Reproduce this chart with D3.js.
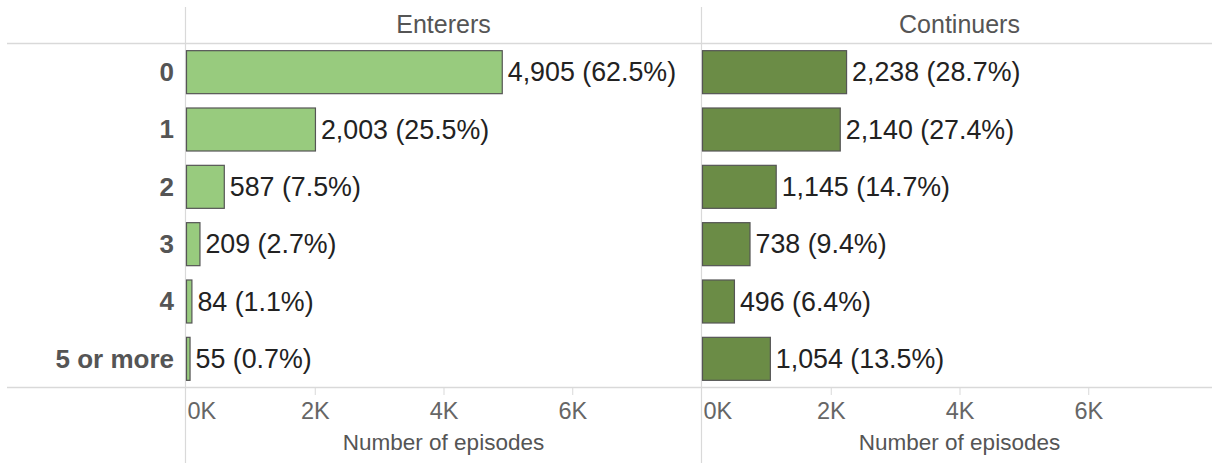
<!DOCTYPE html>
<html>
<head>
<meta charset="utf-8">
<script src="https://cdn.jsdelivr.net/npm/d3@7"></script>
<style>
  body { margin: 0; background: #fff; overflow: hidden; }
  text { font-family: "Liberation Sans", Arial, sans-serif; }
</style>
</head>
<body>
<svg id="chart"></svg>
<script>
// data
const categories = ["0", "1", "2", "3", "4", "5 or more"];
const panels = ["Enterers", "Continuers"];
const enterers = [4905, 2003, 587, 209, 84, 55];
const entererPct = [62.5, 25.5, 7.5, 2.7, 1.1, 0.7];
const continuers = [2238, 2140, 1145, 738, 496, 1054];
const continuerPct = [28.7, 27.4, 14.7, 9.4, 6.4, 13.5];
const tickValues = [0, 2000, 4000, 6000];
const axisTitle = "Number of episodes";

const width = 1212, height = 463;
const plotTop = 43, plotBottom = 387;
const panelX = [[186, 701], [702, 1217]];
const fills = ["#98cb7e", "#6b8c46"];
const seriesVals = [enterers, continuers];
const seriesPct = [entererPct, continuerPct];

const svg = d3.select("#chart").attr("width", width).attr("height", height);

const y = d3.scaleBand().domain(categories).range([plotTop, plotBottom]).paddingInner(0.25).paddingOuter(0.125);

// frame lines
svg.append("line").attr("x1", 7).attr("x2", width).attr("y1", plotTop + 0.5).attr("y2", plotTop + 0.5)
  .attr("stroke", "#d9d9d9").attr("stroke-width", 1.5);
svg.append("line").attr("x1", 7).attr("x2", width).attr("y1", plotBottom + 0.5).attr("y2", plotBottom + 0.5)
  .attr("stroke", "#d9d9d9").attr("stroke-width", 1.5);
[185.5, 701.5].forEach(xp => {
  svg.append("line").attr("x1", xp).attr("x2", xp).attr("y1", 7).attr("y2", height)
    .attr("stroke", "#d9d9d9").attr("stroke-width", 1.2);
});

// category labels
svg.selectAll("text.cat").data(categories).enter().append("text")
  .attr("class", "cat")
  .attr("x", 174)
  .attr("y", d => y(d) + y.bandwidth() / 2)
  .attr("dy", "0.36em")
  .attr("text-anchor", "end")
  .attr("font-size", 26)
  .attr("font-weight", "bold")
  .attr("fill", "#555")
  .text(d => d);

const fmt = d3.format(",");

panels.forEach((name, p) => {
  const x = d3.scaleLinear().domain([0, 8000]).range([panelX[p][0], panelX[p][1]]);
  const g = svg.append("g");
  const cx = panelX[p][0] + (701 - 186) / 2;

  g.append("text")
    .attr("x", cx)
    .attr("y", 33)
    .attr("text-anchor", "middle")
    .attr("font-size", 25)
    .attr("fill", "#555")
    .text(name);

  const rows = categories.map((c, i) => ({ cat: c, value: seriesVals[p][i], pct: seriesPct[p][i] }));

  g.selectAll("rect").data(rows).enter().append("rect")
    .attr("x", x(0) + 0.5)
    .attr("y", d => y(d.cat) + 0.5)
    .attr("width", d => Math.max(x(d.value) - x(0), 1))
    .attr("height", y.bandwidth())
    .attr("fill", fills[p])
    .attr("stroke", "#555")
    .attr("stroke-width", 1.2);

  g.selectAll("text.val").data(rows).enter().append("text")
    .attr("class", "val")
    .attr("x", d => x(d.value) + 6)
    .attr("y", d => y(d.cat) + y.bandwidth() / 2)
    .attr("dy", "0.36em")
    .attr("font-size", 26.8)
    .attr("fill", "#222")
    .text(d => `${fmt(d.value)} (${d.pct.toFixed(1)}%)`);

  // axis
  const axis = d3.axisBottom(x).tickValues(tickValues).tickSize(8).tickPadding(7).tickFormat(d => (d / 1000) + "K");
  const ag = g.append("g").attr("transform", `translate(0,${plotBottom})`).call(axis);
  ag.select(".domain").remove();
  ag.selectAll(".tick line").attr("stroke", "#d9d9d9");
  ag.selectAll(".tick text")
    .attr("fill", "#666")
    .attr("font-size", 23.5)
    .attr("dy", "0.74em")
    .attr("text-anchor", d => d === 0 ? "start" : "middle")
    .attr("dx", d => d === 0 ? 1 : 0);
  ag.selectAll(".tick").filter(d => d === 0).select("line").remove();

  g.append("text")
    .attr("x", cx)
    .attr("y", 450)
    .attr("text-anchor", "middle")
    .attr("font-size", 22.5)
    .attr("fill", "#555")
    .text(axisTitle);
});
</script>
</body>
</html>
